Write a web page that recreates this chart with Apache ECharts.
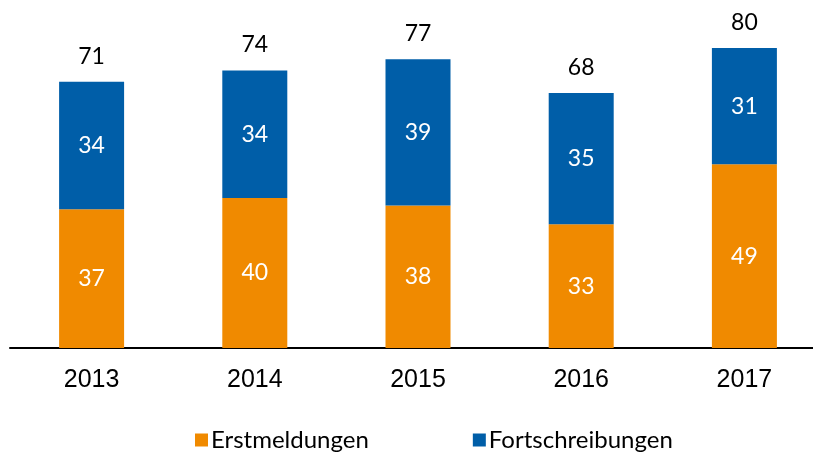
<!DOCTYPE html>
<html><head><meta charset="utf-8">
<script src="https://cdn.jsdelivr.net/npm/echarts@6/dist/echarts.min.js"></script>
<style>html,body{margin:0;padding:0;background:#fff}#c{width:813px;height:453px}</style>
</head><body><div id="c"></div>
<script>
const categories = ['2013','2014','2015','2016','2017'];
const erstmeldungen = [37, 40, 38, 33, 49];
const fortschreibungen = [34, 34, 39, 35, 31];
const totals = [71, 74, 77, 68, 80];

const chart = echarts.init(document.getElementById('c'), null, {renderer:'canvas'});
chart.setOption({
  animation: false,
  grid: {left: 10, width: 816, top: 48, bottom: 105, containLabel: false, outerBoundsMode: 'none'},
  legend: {
    bottom: -4, left: 190, itemWidth: 13, itemHeight: 13, itemGap: 104,
    icon: 'rect',
    textStyle: {fontFamily: 'Lato', fontSize: 24, color: '#000', padding: [0,0,0,-2]},
    data: ['Erstmeldungen','Fortschreibungen']
  },
  xAxis: {
    type: 'category', data: categories,
    axisLine: {lineStyle: {color: '#000', width: 2}},
    axisTick: {show: false},
    axisLabel: {fontFamily: 'Liberation Sans', fontSize: 25, color: '#000', margin: 20}
  },
  yAxis: {type: 'value', min: 0, max: 80, show: false, splitLine: {show: false}},
  series: [
    {name: 'Erstmeldungen', type: 'bar', stack: 'a', data: erstmeldungen, barWidth: 65,
     itemStyle: {color: '#F08A00'},
     label: {show: true, position: 'inside', color: '#fff', fontFamily: 'Lato', fontSize: 23}},
    {name: 'Fortschreibungen', type: 'bar', stack: 'a', data: fortschreibungen, barWidth: 65,
     itemStyle: {color: '#005EA8'},
     label: {show: true, position: 'inside', color: '#fff', fontFamily: 'Lato', fontSize: 23}},
    {name: 'total', type: 'bar', stack: 'a', data: totals.map(() => 0), barWidth: 65,
     itemStyle: {color: 'transparent'},
     label: {show: true, position: 'top', distance: 14, color: '#000', fontFamily: 'Lato', fontSize: 23,
       formatter: p => totals[p.dataIndex]}}
  ]
});
</script></body></html>
